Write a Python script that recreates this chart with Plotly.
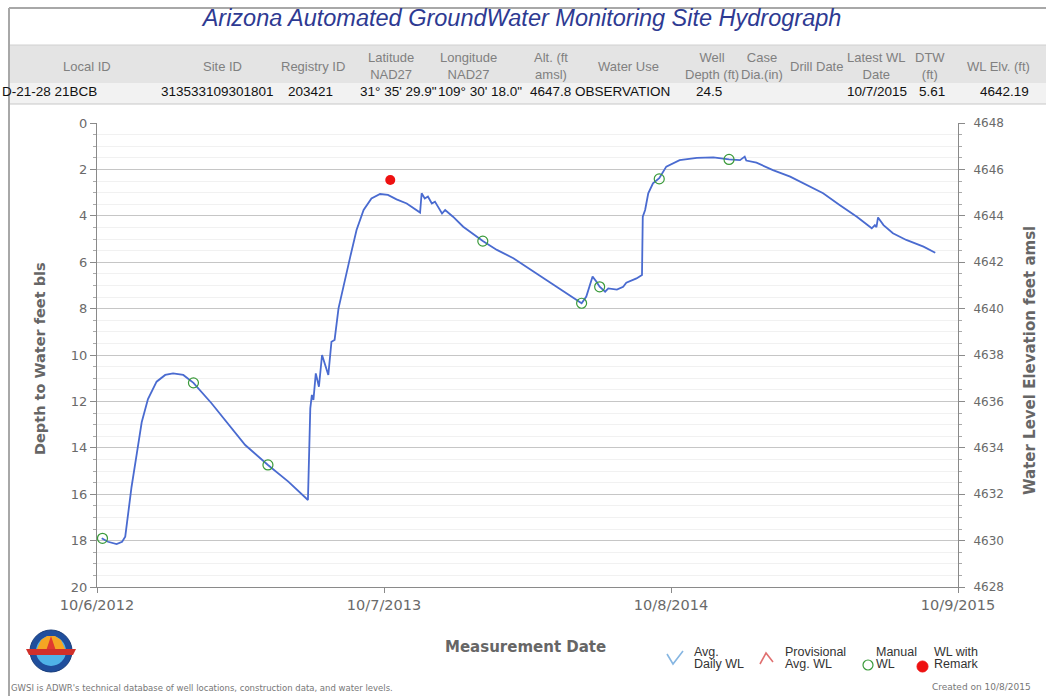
import plotly.graph_objects as go

# ---------------- data ----------------
avg_dates = [
    "2012-10-12", "2012-10-20", "2012-10-31", "2012-11-07", "2012-11-11", "2012-11-15",
    "2012-11-19", "2012-11-26", "2012-12-02", "2012-12-10", "2012-12-21", "2013-01-01",
    "2013-01-11", "2013-01-24", "2013-02-06", "2013-03-01", "2013-03-22", "2013-04-13",
    "2013-05-12", "2013-06-07", "2013-07-02", "2013-07-05", "2013-07-07", "2013-07-09",
    "2013-07-12", "2013-07-16", "2013-07-20", "2013-07-28", "2013-08-01", "2013-08-05",
    "2013-08-10", "2013-08-16", "2013-08-25", "2013-09-02", "2013-09-11", "2013-09-21",
    "2013-10-02", "2013-10-12", "2013-10-23", "2013-11-05", "2013-11-22", "2013-11-24",
    "2013-11-28", "2013-12-02", "2013-12-07", "2013-12-11", "2013-12-20", "2013-12-24",
    "2014-01-03", "2014-01-16", "2014-01-25", "2014-02-10", "2014-02-28", "2014-03-21",
    "2014-05-02", "2014-06-16", "2014-06-22", "2014-06-30", "2014-07-05", "2014-07-09",
    "2014-07-16", "2014-07-20", "2014-07-31", "2014-08-08", "2014-08-12", "2014-08-25",
    "2014-09-01", "2014-09-02", "2014-09-05", "2014-09-09", "2014-09-15", "2014-09-23",
    "2014-10-02", "2014-10-19", "2014-11-10", "2014-12-01", "2014-12-21", "2015-01-04",
    "2015-01-10", "2015-01-12", "2015-01-25", "2015-02-15", "2015-03-09", "2015-03-30",
    "2015-04-20", "2015-05-11", "2015-06-02", "2015-06-21", "2015-06-25", "2015-06-27",
    "2015-06-29", "2015-07-06", "2015-07-18", "2015-08-04", "2015-08-26", "2015-09-10",
]
avg_depth = [
    17.90, 18.05, 18.15, 18.05, 17.83, 16.70,
    15.70, 14.20, 12.90, 11.90, 11.15, 10.86,
    10.79, 10.86, 11.20, 12.08, 12.94, 13.88,
    14.74, 15.46, 16.25, 12.30, 11.72, 11.94,
    10.79, 11.37, 10.00, 10.86, 9.43, 9.35,
    7.99, 7.05, 5.76, 4.61, 3.75, 3.25,
    3.06, 3.10, 3.29, 3.47, 3.86, 3.03,
    3.25, 3.17, 3.47, 3.39, 3.90, 3.75,
    4.04, 4.47, 4.68, 5.09, 5.47, 5.83,
    6.77, 7.77, 7.48, 6.62, 6.84, 7.06,
    7.27, 7.13, 7.18, 7.06, 6.88, 6.70,
    6.55, 4.04, 3.75, 3.03, 2.60, 2.38,
    1.88, 1.60, 1.50, 1.48, 1.57, 1.60,
    1.45, 1.62, 1.71, 2.03, 2.31, 2.67,
    3.03, 3.53, 4.04, 4.54, 4.40, 4.49,
    4.07, 4.40, 4.75, 5.04, 5.33, 5.59,
]

manual_dates = ["2012-10-13", "2013-02-06", "2013-05-12", "2014-02-10",
                "2014-06-16", "2014-07-09", "2014-09-23", "2014-12-21"]
manual_depth = [17.90, 11.20, 14.74, 5.09, 7.77, 7.06, 2.41, 1.57]

remark_dates = ["2013-10-15"]
remark_depth = [2.46]

land_alt = 4647.8
x_tick_vals = ["2012-10-06", "2013-10-07", "2014-10-08", "2015-10-09"]
x_tick_text = ["10/6/2012", "10/7/2013", "10/8/2014", "10/9/2015"]

header_labels = ["Local ID", "Site ID", "Registry ID", "Latitude<br>NAD27", "Longitude<br>NAD27",
                 "Alt. (ft<br>amsl)", "Water Use", "Well<br>Depth (ft)", "Case<br>Dia.(in)",
                 "Drill Date", "Latest WL<br>Date", "DTW<br>(ft)", "WL Elv. (ft)"]
header_values = ["D-21-28 21BCB", "313533109301801", "203421", "31° 35' 29.9\"", "109° 30' 18.0\"",
                 "4647.8", "OBSERVATION", "24.5", "", "", "10/7/2015", "5.61", "4642.19"]

legend_line1 = ["Avg.", "Provisional", "Manual", "WL with"]
legend_line2 = ["Daily WL", "Avg. WL", "WL", "Remark"]

# ---------------- layout geometry ----------------
W, H = 1046, 696
L, R, T, B = 97, 958, 123, 587
PW, PH = R - L, B - T


def px(x):
    return (x - L) / PW


def py(y):
    return (B - y) / PH


fig = go.Figure()

fig.add_trace(go.Scatter(x=avg_dates, y=avg_depth, mode="lines", name="Avg. Daily WL",
                         line=dict(color="#4a6bd0", width=1.8), hoverinfo="x+y"))
fig.add_trace(go.Scatter(x=manual_dates, y=manual_depth, mode="markers", name="Manual WL",
                         marker=dict(symbol="circle-open", size=10, color="#3a9a3a",
                                     line=dict(width=1.2, color="#3a9a3a"))))
fig.add_trace(go.Scatter(x=remark_dates, y=remark_depth, mode="markers", name="WL with Remark",
                         marker=dict(symbol="circle", size=10, color="#ee1111")))
# elevation (right axis)
fig.add_trace(go.Scatter(x=avg_dates, y=[land_alt - d for d in avg_depth], yaxis="y2",
                         mode="lines", line=dict(width=0, color="rgba(0,0,0,0)"),
                         showlegend=False, hoverinfo="skip"))

ytickfont = dict(family="DejaVu Sans", size=13, color="#6a6a6a")
xtickfont = dict(family="DejaVu Sans", size=14.5, color="#6a6a6a")
titlefont = dict(family="DejaVu Sans", size=15, color="#666666", weight="bold")
lab_font = dict(family="Liberation Sans", size=13, color="#808080")
val_font = dict(family="Liberation Sans", size=13.5, color="#111111")

fig.update_layout(
    width=W, height=H,
    margin=dict(l=L, r=W - R, t=T, b=H - B, autoexpand=False),
    paper_bgcolor="white", plot_bgcolor="white",
    showlegend=False,
    title=dict(text="Arizona Automated GroundWater Monitoring Site Hydrograph",
               x=px(522), xanchor="center", xref="paper", y=1 - 18 / H, yanchor="middle",
               yref="container",
               font=dict(family="Liberation Sans", size=23.5, color="#2e3a92", style="italic")),
    xaxis=dict(range=["2012-10-06", "2015-10-09"], type="date",
               tickvals=x_tick_vals, ticktext=x_tick_text, tickfont=xtickfont,
               showgrid=False, showline=True, linecolor="#8a8a8a", linewidth=1,
               ticks="outside", ticklen=5, tickcolor="#8a8a8a", zeroline=False),
    yaxis=dict(range=[20, 0], dtick=2, tickfont=ytickfont, showline=True, linecolor="#8a8a8a",
               ticks="outside", ticklen=6, tickcolor="#8a8a8a",
               gridcolor="#c6c6c6", gridwidth=1, zeroline=False,
               minor=dict(dtick=0.5, ticks="outside", ticklen=3, tickcolor="#aaaaaa",
                          showgrid=True, gridcolor="#f1f1f1")),
    yaxis2=dict(range=[4628, 4648], dtick=2, overlaying="y", side="right",
                tickfont=dict(family="DejaVu Sans", size=12, color="#6a6a6a"),
                showline=True, linecolor="#8a8a8a", ticks="outside", ticklen=6,
                tickcolor="#8a8a8a", showgrid=False, zeroline=False, ticklabelstandoff=6,
                minor=dict(dtick=0.5, ticks="outside", ticklen=3, tickcolor="#aaaaaa")),
)

shapes = []
# header bands
shapes.append(dict(type="rect", xref="paper", yref="paper", x0=px(9), x1=px(W), y0=py(83), y1=py(45),
                   fillcolor="#e4e4e4", line=dict(width=0), layer="below"))
shapes.append(dict(type="rect", xref="paper", yref="paper", x0=px(9), x1=px(W), y0=py(104), y1=py(83),
                   fillcolor="#f2f2f2", line=dict(width=0), layer="below"))
shapes.append(dict(type="line", xref="paper", yref="paper", x0=px(9), x1=px(W), y0=py(104), y1=py(104),
                   line=dict(color="#c8c8c8", width=1)))
shapes.append(dict(type="line", xref="paper", yref="paper", x0=px(9), x1=px(W), y0=py(45), y1=py(45),
                   line=dict(color="#d0d0d0", width=1)))
# frame
shapes.append(dict(type="line", xref="paper", yref="paper", x0=px(9), x1=px(W), y0=py(8), y1=py(8),
                   line=dict(color="#a8a8a8", width=2)))
shapes.append(dict(type="line", xref="paper", yref="paper", x0=px(9), x1=px(9), y0=py(8), y1=py(H),
                   line=dict(color="#a8a8a8", width=2)))

# logo (approximation)
cx, cy, r = 51, 651, 21
shapes.append(dict(type="circle", xref="paper", yref="paper", x0=px(cx - r), x1=px(cx + r),
                   y0=py(cy + r), y1=py(cy - r), fillcolor="#1f4e9c", line=dict(color="#173c7a", width=1)))
r2 = 15
shapes.append(dict(type="circle", xref="paper", yref="paper", x0=px(cx - r2), x1=px(cx + r2),
                   y0=py(cy + r2), y1=py(cy - r2), fillcolor="#4fb3e8", line=dict(width=0)))
shapes.append(dict(type="path", xref="paper", yref="paper",
                   path=(f"M {px(cx - r2)} {py(cy)} L {px(cx - 10)} {py(cy - 11)} L {px(cx - 4)} {py(cy - 15)} "
                         f"L {px(cx + 4)} {py(cy - 15)} L {px(cx + 10)} {py(cy - 11)} L {px(cx + r2)} {py(cy)} Z"),
                   fillcolor="#f5a623", line=dict(width=0)))
shapes.append(dict(type="path", xref="paper", yref="paper",
                   path=(f"M {px(cx - 5)} {py(cy)} L {px(cx)} {py(cy - 15)} L {px(cx + 5)} {py(cy)} Z"),
                   fillcolor="#e03a2f", line=dict(width=0)))
shapes.append(dict(type="path", xref="paper", yref="paper",
                   path=(f"M {px(cx - 25)} {py(cy - 2)} L {px(cx + 25)} {py(cy - 2)} L {px(cx + 22)} {py(cy + 4)} "
                         f"L {px(cx - 22)} {py(cy + 4)} Z"),
                   fillcolor="#d0302a", line=dict(width=0)))

# legend icons
shapes.append(dict(type="path", xref="paper", yref="paper",
                   path=f"M {px(667)} {py(654)} L {px(673)} {py(664)} L {px(683)} {py(651)}",
                   line=dict(color="#86b6e2", width=1.6)))
shapes.append(dict(type="path", xref="paper", yref="paper",
                   path=f"M {px(760)} {py(664)} L {px(766)} {py(653)} L {px(773)} {py(662)}",
                   line=dict(color="#e07070", width=1.6)))
shapes.append(dict(type="circle", xref="paper", yref="paper", x0=px(863), x1=px(873),
                   y0=py(670), y1=py(660), line=dict(color="#3a9a3a", width=1.2)))
shapes.append(dict(type="circle", xref="paper", yref="paper", x0=px(917), x1=px(928),
                   y0=py(672), y1=py(661), fillcolor="#ee1111", line=dict(color="#ee1111", width=1)))

annotations = []
label_x = [87, 222, 313, 391, 468, 551, 628, 712, 762, 816, 876, 930, 998]
value_x = [None, 217, 310, 398, 480, 550, 622, 709, 762, 816, 877, 932, 1004]
for i, lab in enumerate(header_labels):
    annotations.append(dict(xref="paper", yref="paper", x=px(label_x[i]), y=py(66), text=lab,
                            showarrow=False, xanchor="center", yanchor="middle", font=lab_font))
for i, val in enumerate(header_values):
    if not val:
        continue
    if i == 0:
        annotations.append(dict(xref="paper", yref="paper", x=px(0), y=py(92), text=val,
                                showarrow=False, xanchor="left", yanchor="middle", font=val_font))
    else:
        annotations.append(dict(xref="paper", yref="paper", x=px(value_x[i]), y=py(92), text=val,
                                showarrow=False, xanchor="center", yanchor="middle", font=val_font))

# axis titles
annotations.append(dict(xref="paper", yref="paper", x=px(40), y=py(359), text="Depth to Water feet bls",
                        textangle=-90, showarrow=False, xanchor="center", yanchor="middle",
                        font=dict(titlefont, size=14.5)))
annotations.append(dict(xref="paper", yref="paper", x=px(1030), y=py(361),
                        text="Water Level Elevation feet amsl",
                        textangle=-90, showarrow=False, xanchor="center", yanchor="middle", font=titlefont))
annotations.append(dict(xref="paper", yref="paper", x=px(525), y=py(647), text="Measurement Date",
                        showarrow=False, xanchor="center", yanchor="middle", font=titlefont))

# legend texts
leg_x = [692, 783, 874, 932]
leg_font = dict(family="Liberation Sans", size=12.5, color="#333333")
for i in range(4):
    annotations.append(dict(xref="paper", yref="paper", x=px(leg_x[i]), y=py(652), text=legend_line1[i],
                            showarrow=False, xanchor="left", yanchor="middle", font=leg_font))
    annotations.append(dict(xref="paper", yref="paper", x=px(leg_x[i]), y=py(664), text=legend_line2[i],
                            showarrow=False, xanchor="left", yanchor="middle", font=leg_font))

annotations.append(dict(xref="paper", yref="paper", x=px(9), y=py(688),
                        text="GWSI is ADWR's technical database of well locations, construction data, and water levels.",
                        showarrow=False, xanchor="left", yanchor="middle",
                        font=dict(family="DejaVu Sans", size=8.5, color="#777777")))
annotations.append(dict(xref="paper", yref="paper", x=px(1033), y=py(687),
                        text="Created on 10/8/2015", showarrow=False, xanchor="right", yanchor="middle",
                        font=dict(family="DejaVu Sans", size=9, color="#777777")))

fig.update_layout(shapes=shapes, annotations=annotations)

fig.write_html("out.html", config={"displayModeBar": False},
               post_script="document.body.style.margin='0';document.body.style.overflow='hidden';")
